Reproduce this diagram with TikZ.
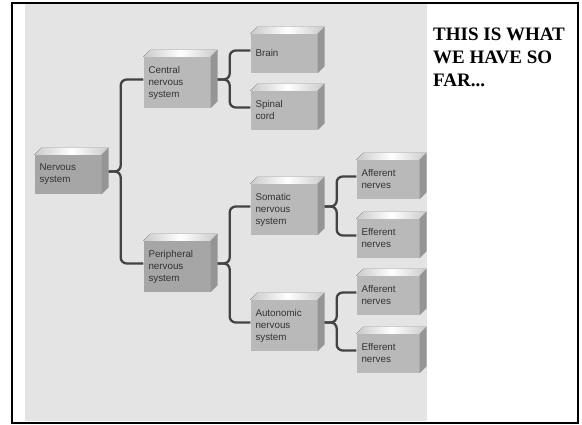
\documentclass[tikz,border=0pt]{standalone}
\usepackage{fontspec}
\usepackage{xcolor}
\newfontfamily\labelfont{Liberation Sans}
\newfontfamily\notefont{Liberation Serif}
\definecolor{panelBack}{HTML}{E4E4E4}
\definecolor{boxFront} {HTML}{B9B9B9}
\definecolor{boxDark}  {HTML}{A6A6A6}
\definecolor{boxTop}   {HTML}{CACACA}
\definecolor{boxSide}  {HTML}{959595}
\definecolor{linkGray} {HTML}{434343}
\definecolor{labelGray}{HTML}{333333}
\usetikzlibrary{positioning, calc}
\tikzset{
    vbox/.style={rectangle, fill=boxFront, text=labelGray, align=left,
                 font=\labelfont\fontsize{9.8}{12}\selectfont,
                 text width=57pt, inner xsep=5pt, inner ysep=2pt,
                 minimum height=39pt},
    vdark/.style={vbox, fill=boxDark},
    vtall/.style={minimum height=51pt},
    vnarrow/.style={text width=53pt},
    boxtop/.style={left color=boxTop, right color=boxTop, middle color=white},
    boxside/.style={fill=boxSide},
    link/.style={draw=linkGray, line width=2.3pt, rounded corners=6pt},
}

\begin{document}
\begin{tikzpicture}[x=1pt, y=1pt, on grid]
    \useasboundingbox (0,0) rectangle (582,425);
    % frame and grey panel
    \fill[panelBack] (25,4) rectangle (427,421);
    \draw[line width=1.5pt] (12,2) rectangle (578,422);
    % boxes
    \node[vdark] (nerv) at (68,250.5) {Nervous\\system};
    \node[vbox, vtall, above right=92pt and 109pt of nerv] (cns) {Central\\nervous\\system};
    \node[vdark, vtall, below right=92pt and 109pt of nerv] (pns) {Peripheral\\nervous\\system};
    \node[vbox, above right=29pt and 107pt of cns] (brain) {Brain};
    \node[vbox, below right=28pt and 107pt of cns] (spinal) {Spinal\\cord};
    \node[vbox, vtall, above right=57pt and 107pt of pns] (sns) {Somatic\\nervous\\system};
    \node[vbox, vtall, below right=59pt and 107pt of pns] (ans) {Autonomic\\nervous\\system};
    \node[vbox, vnarrow, above right=30pt and 104pt of sns] (aff1) {Afferent\\nerves};
    \node[vbox, vnarrow, below right=29pt and 104pt of sns] (eff1) {Efferent\\nerves};
    \node[vbox, vnarrow, above right=30pt and 104pt of ans] (aff2) {Afferent\\nerves};
    \node[vbox, vnarrow, below right=28pt and 104pt of ans] (eff2) {Efferent\\nerves};
    % top and side faces
    \foreach \n in {nerv, cns, pns, brain, spinal, sns, ans, aff1, eff1, aff2, eff2} {
        \fill[boxtop] (\n.north west) -- ++(7,7) -- ([shift={(7,7)}]\n.north east)
            -- (\n.north east) -- cycle;
        \fill[boxside] (\n.north east) -- ++(7,7) -- ([shift={(7,7)}]\n.south east)
            -- (\n.south east) -- cycle;
    }
    % braces
    \foreach \p/\c in {nerv/cns, nerv/pns, cns/brain, cns/spinal, pns/sns, pns/ans,
                       sns/aff1, sns/eff1, ans/aff2, ans/eff2}
        \draw[link] ([shift={(7,3)}]\p.east) -- ++(12,0) |- ([yshift=3pt]\c.west);
    % note
    \node[anchor=north west, inner sep=0pt, align=left,
          font=\notefont\bfseries\fontsize{19}{23}\selectfont] (note) at (433,397)
        {THIS IS WHAT\\WE HAVE SO\\FAR...};
\end{tikzpicture}
\end{document}
